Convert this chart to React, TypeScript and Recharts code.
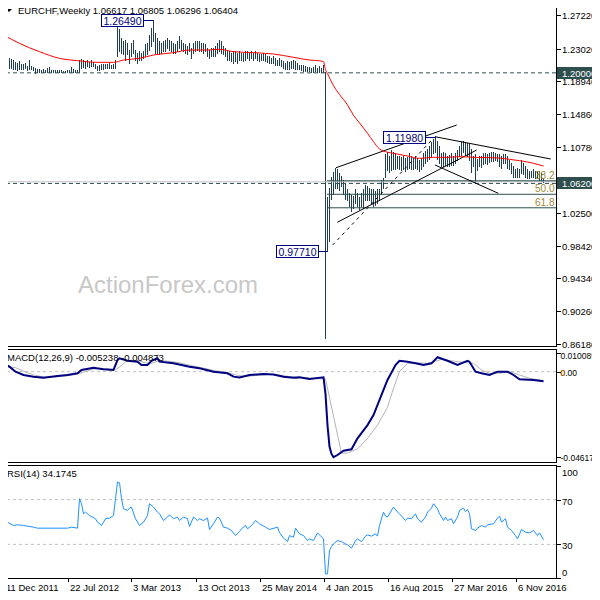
import React from 'react';
import { ComposedChart, Bar, Line, XAxis, YAxis, ReferenceLine, ReferenceDot } from 'recharts';

// weekly EURCHF bars, index 0 = week of 11 Dec 2011
const highs = [
  1.2410, 1.2260, 1.2235, 1.2180, 1.2170, 1.2150, 1.2130, 1.2120, 1.2140, 1.2110,
  1.2100, 1.2120, 1.2080, 1.2160, 1.2080, 1.2070, 1.2060, 1.2045, 1.2040, 1.2035,
  1.2040, 1.2030, 1.2060, 1.2070, 1.2035, 1.2030, 1.2025, 1.2030, 1.2025, 1.2025,
  1.2022, 1.2020, 1.2025, 1.2030, 1.2070, 1.2040, 1.2035, 1.2030, 1.2160, 1.2170,
  1.2150, 1.2140, 1.2150, 1.2130, 1.2150, 1.2130, 1.2110, 1.2080, 1.2090, 1.2100,
  1.2100, 1.2110, 1.2110, 1.2120, 1.2090, 1.2110, 1.2150, 1.2597, 1.2535, 1.2431,
  1.2389, 1.2410, 1.2368, 1.2285, 1.2368, 1.2410, 1.2285, 1.2244, 1.2264, 1.2244,
  1.2264, 1.2348, 1.2368, 1.2472, 1.2556, 1.2649, 1.2493, 1.2431, 1.2389, 1.2368,
  1.2389, 1.2410, 1.2431, 1.2410, 1.2389, 1.2368, 1.2348, 1.2389, 1.2452, 1.2410,
  1.2368, 1.2348, 1.2327, 1.2368, 1.2306, 1.2368, 1.2389, 1.2389, 1.2389, 1.2368,
  1.2368, 1.2348, 1.2306, 1.2285, 1.2306, 1.2306, 1.2327, 1.2368, 1.2410, 1.2389,
  1.2327, 1.2306, 1.2285, 1.2264, 1.2244, 1.2264, 1.2264, 1.2244, 1.2264, 1.2244,
  1.2244, 1.2264, 1.2264, 1.2244, 1.2264, 1.2244, 1.2264, 1.2244, 1.2223, 1.2223,
  1.2244, 1.2223, 1.2202, 1.2202, 1.2181, 1.2202, 1.2181, 1.2160, 1.2181, 1.2160,
  1.2140, 1.2119, 1.2140, 1.2127, 1.2140, 1.2160, 1.2140, 1.2119, 1.2098, 1.2098,
  1.2086, 1.2077, 1.2069, 1.2069, 1.2056, 1.2069, 1.2098, 1.2056, 1.2077, 1.2056,
  1.2098, 1.2010, 1.0450, 1.0560, 1.0700, 1.0760, 1.0812, 1.0790, 1.0750, 1.0710,
  1.0660, 1.0620, 1.0540, 1.0500, 1.0470, 1.0455, 1.0540, 1.0500, 1.0450, 1.0500,
  1.0540, 1.0590, 1.0580, 1.0560, 1.0550, 1.0540, 1.0520, 1.0540, 1.0540, 1.0660,
  1.0680, 1.0975, 1.1000, 1.0950, 1.1030, 1.1000, 1.0990, 1.0960, 1.0950, 1.0940,
  1.0950, 1.0930, 1.0940, 1.0990, 1.0950, 1.0930, 1.0950, 1.0930, 1.0910, 1.0930,
  1.0990, 1.1020, 1.1040, 1.1080, 1.1130, 1.1170, 1.1198, 1.1140, 1.1080, 1.0990,
  1.1010, 1.0990, 1.0950, 1.0970, 1.0990, 1.0960, 1.0990, 1.1030, 1.1080, 1.1140,
  1.1140, 1.1130, 1.1120, 1.1100, 1.1040, 1.0960, 1.0985, 1.0920, 1.0950, 1.0960,
  1.0990, 1.0990, 1.0975, 1.0990, 1.1000, 1.1000, 1.0990, 1.0980, 1.0975, 1.0950,
  1.0975, 1.0975, 1.0950, 1.0910, 1.0870, 1.0830, 1.0790, 1.0810, 1.0790, 1.0910,
  1.0870, 1.0830, 1.0790, 1.0770, 1.0770, 1.0790, 1.0770, 1.0770, 1.0767, 1.0746, 1.06805,
];

const lows = [
  1.2200, 1.2140, 1.2098, 1.2060, 1.2050, 1.2040, 1.2040, 1.2030, 1.2040, 1.2040,
  1.2040, 1.2050, 1.2030, 1.2040, 1.2040, 1.2030, 1.1995, 1.2005, 1.2005, 1.2008,
  1.2008, 1.2005, 1.2005, 1.2008, 1.2005, 1.2005, 1.2006, 1.2006, 1.2005, 1.2006,
  1.2006, 1.2006, 1.2006, 1.2006, 1.2006, 1.2008, 1.2008, 1.2008, 1.2010, 1.2060,
  1.2070, 1.2060, 1.2080, 1.2070, 1.2080, 1.2080, 1.2060, 1.2030, 1.2030, 1.2040,
  1.2040, 1.2050, 1.2060, 1.2060, 1.2060, 1.2060, 1.2060, 1.2202, 1.2264, 1.2244,
  1.2223, 1.2160, 1.2223, 1.2119, 1.2202, 1.2244, 1.2160, 1.2119, 1.2160, 1.2160,
  1.2181, 1.2202, 1.2223, 1.2285, 1.2327, 1.2389, 1.2244, 1.2244, 1.2223, 1.2244,
  1.2264, 1.2264, 1.2306, 1.2285, 1.2264, 1.2244, 1.2244, 1.2264, 1.2306, 1.2285,
  1.2264, 1.2244, 1.2223, 1.2264, 1.2181, 1.2244, 1.2264, 1.2285, 1.2264, 1.2264,
  1.2244, 1.2264, 1.2202, 1.2181, 1.2202, 1.2202, 1.2202, 1.2244, 1.2264, 1.2244,
  1.2223, 1.2202, 1.2160, 1.2160, 1.2140, 1.2119, 1.2140, 1.2119, 1.2160, 1.2160,
  1.2140, 1.2160, 1.2181, 1.2160, 1.2181, 1.2160, 1.2181, 1.2160, 1.2140, 1.2160,
  1.2160, 1.2140, 1.2127, 1.2119, 1.2119, 1.2119, 1.2098, 1.2098, 1.2098, 1.2077,
  1.2056, 1.2036, 1.2044, 1.2044, 1.2056, 1.2056, 1.2044, 1.2036, 1.2036, 1.2027,
  1.2019, 1.2019, 1.2011, 1.2011, 1.2003, 1.2003, 1.2011, 1.2003, 1.2003, 1.2003,
  1.2003, 0.8690, 0.9771, 0.9900, 1.0420, 1.0480, 1.0560, 1.0560, 1.0530, 1.0580,
  1.0480, 1.0420, 1.0410, 1.0330, 1.0265, 1.0310, 1.0370, 1.0330, 1.0290, 1.0330,
  1.0310, 1.0410, 1.0410, 1.0410, 1.0370, 1.0330, 1.0350, 1.0370, 1.0410, 1.0480,
  1.0560, 1.0700, 1.0780, 1.0760, 1.0780, 1.0800, 1.0800, 1.0810, 1.0790, 1.0780,
  1.0800, 1.0770, 1.0790, 1.0810, 1.0800, 1.0790, 1.0810, 1.0790, 1.0770, 1.0790,
  1.0830, 1.0870, 1.0890, 1.0920, 1.0950, 1.0990, 1.1000, 1.0920, 1.0870, 1.0830,
  1.0830, 1.0850, 1.0830, 1.0830, 1.0850, 1.0850, 1.0870, 1.0910, 1.0950, 1.0970,
  1.1000, 1.0970, 1.0950, 1.0910, 1.0760, 1.0830, 1.0625, 1.0780, 1.0830, 1.0820,
  1.0860, 1.0870, 1.0860, 1.0880, 1.0890, 1.0890, 1.0900, 1.0890, 1.0830, 1.0810,
  1.0870, 1.0870, 1.0810, 1.0790, 1.0750, 1.0700, 1.0690, 1.0700, 1.0690, 1.0750,
  1.0730, 1.0700, 1.0680, 1.0680, 1.0690, 1.0690, 1.0680, 1.0680, 1.0660, 1.0640, 1.06296,
];

// red moving average, [bar index, value]
const maLine: [number, number][] = [
  [0, 1.2472], [8, 1.2368], [18, 1.2264], [28, 1.2181], [37, 1.2152], [47, 1.2131], [55, 1.2131],
  [60, 1.2160], [68, 1.2181], [75, 1.2223], [85, 1.2252], [93, 1.2285], [102, 1.2285], [108, 1.2294],
  [115, 1.2264], [125, 1.2252], [135, 1.2235], [145, 1.2194], [153, 1.2160], [158, 1.2150],
  [160, 1.2140], [161, 1.2040], [162, 1.1990], [165, 1.1840], [168, 1.1730], [172, 1.1600],
  [175, 1.1470], [178, 1.1375], [182, 1.1245], [185, 1.1141], [188, 1.1050], [192, 1.1010],
  [195, 1.0996], [202, 1.0962], [208, 1.0933], [215, 1.0946], [222, 1.0946], [228, 1.0954],
  [235, 1.0946], [242, 1.0942], [248, 1.0937], [253, 1.0921], [258, 1.0904], [265, 1.0871], [270, 1.0837],
];

const macdMain: [number, number][] = [
  [0, 0.0045], [3, 0.0027], [6, 0.0000], [10, -0.0018], [15, -0.0027], [20, -0.0033], [27, -0.0024],
  [32, -0.0018], [37, -0.0009], [39, 0.0009], [45, 0.0021], [50, 0.0013], [55, 0.0009], [57, 0.0063],
  [58, 0.0072], [62, 0.0059], [67, 0.0054], [69, 0.0036], [72, 0.0036], [74, 0.0059], [77, 0.0072],
  [78, 0.0054], [85, 0.0045], [93, 0.0027], [98, 0.0018], [105, 0.0000], [112, -0.0009], [115, -0.0027],
  [118, -0.0031], [123, -0.0018], [130, -0.0013], [135, -0.0015], [140, -0.0027], [145, -0.0033],
  [148, -0.0031], [153, -0.0040], [160, -0.0031], [161, -0.0120], [162, -0.0290], [163, -0.0405],
  [164, -0.0445], [165, -0.0463], [167, -0.0451], [170, -0.0428], [174, -0.0420], [177, -0.0361],
  [182, -0.0289], [185, -0.0235], [189, -0.0126], [192, -0.0045], [196, 0.0036], [198, 0.0059],
  [202, 0.0054], [206, 0.0045], [210, 0.0036], [214, 0.0045], [217, 0.0078], [222, 0.0059],
  [227, 0.0036], [232, 0.0059], [233, 0.0054], [236, 0.0000], [239, -0.0009], [243, -0.0018],
  [247, 0.0000], [252, 0.0000], [255, -0.0018], [258, -0.0041], [265, -0.0045], [270, -0.005238],
];

const macdSignal: [number, number][] = [
  [0, 0.0005], [3, 0.0025], [6, 0.0022], [10, 0.0002], [15, -0.0018], [20, -0.0029], [27, -0.0028],
  [32, -0.0022], [37, -0.0013], [40, -0.0002], [45, 0.0014], [50, 0.0017], [56, 0.0011], [58, 0.0025],
  [61, 0.0052], [64, 0.0062], [68, 0.0057], [71, 0.0047], [74, 0.0045], [78, 0.0060], [82, 0.0057],
  [88, 0.0048], [95, 0.0030], [100, 0.0019], [106, 0.0005], [112, -0.0006], [117, -0.0020],
  [121, -0.0026], [126, -0.0021], [132, -0.0015], [137, -0.0017], [142, -0.0025], [147, -0.0031],
  [152, -0.0034], [157, -0.0038], [161, -0.0040], [169, -0.0442], [172, -0.0440], [177, -0.0418],
  [182, -0.0361], [187, -0.0289], [192, -0.0192], [195, -0.0090], [198, 0.0000], [202, 0.0045],
  [207, 0.0048], [212, 0.0045], [219, 0.0066], [225, 0.0057], [230, 0.0050], [235, 0.0045],
  [239, 0.0009], [243, -0.0009], [248, -0.0009], [253, 0.0000], [258, -0.0018], [263, -0.0036], [270, -0.004873],
];

const rsiLine: [number, number][] = [
  [0, 51.3], [2, 49.8], [5, 46.9], [7, 47.5], [10, 46.9], [12, 46.3], [15, 45.4], [17, 44.5], [32, 44.5],
  [34, 45.4], [37, 44.5], [38, 70.8], [39, 66.3], [40, 57.3], [41, 58.8], [43, 55.8], [46, 52.9],
  [47, 49.8], [49, 46.9], [51, 52.9], [53, 53.5], [55, 55.8], [56, 70.8], [57, 85.7], [58, 85.1],
  [59, 70.8], [60, 61.8], [62, 60.3], [63, 62.4], [64, 63.3], [66, 52.9], [68, 46.9], [70, 49.8],
  [72, 55.8], [73, 66.3], [75, 63.3], [77, 58.8], [78, 57.3], [80, 51.3], [82, 54.4], [83, 56.5],
  [85, 52.9], [87, 54.4], [88, 51.3], [90, 54.4], [92, 52.9], [93, 46.0], [95, 54.4], [97, 51.3],
  [98, 52.9], [100, 51.3], [102, 53.5], [103, 43.3], [105, 48.4], [107, 54.4], [108, 53.5], [110, 45.4],
  [112, 44.5], [114, 42.4], [116, 37.9], [118, 41.5], [119, 43.9], [121, 46.9], [122, 43.9], [124, 46.9],
  [126, 51.3], [128, 48.4], [131, 45.4], [133, 43.3], [137, 45.4], [138, 40.6], [140, 35.6], [142, 32.5],
  [143, 37.9], [145, 36.4], [146, 44.5], [148, 39.4], [150, 37.9], [152, 33.4], [153, 34.9], [155, 33.4],
  [157, 40.3], [158, 38.5], [160, 34.9], [161, 3.6], [162, 3.6], [163, 24.5], [164, 28.0], [165, 30.5],
  [167, 33.4], [169, 32.5], [171, 30.5], [172, 29.6], [174, 26.6], [176, 33.4], [177, 34.9], [179, 32.5],
  [181, 37.4], [182, 38.5], [184, 37.4], [186, 39.4], [187, 37.4], [188, 46.9], [190, 58.8], [191, 55.3],
  [192, 54.4], [195, 63.3], [197, 58.8], [198, 57.3], [201, 51.3], [202, 53.5], [204, 52.9], [206, 57.3],
  [207, 52.9], [209, 49.9], [211, 54.4], [212, 58.8], [214, 62.4], [215, 66.3], [217, 61.8], [218, 57.3],
  [220, 51.3], [221, 54.4], [222, 51.3], [224, 52.9], [225, 48.4], [227, 54.4], [228, 60.3], [230, 62.4],
  [231, 59.4], [232, 61.2], [233, 57.3], [234, 43.9], [236, 42.4], [237, 44.5], [239, 46.9], [241, 45.4],
  [242, 47.5], [245, 48.4], [247, 53.5], [248, 55.3], [249, 49.9], [251, 52.9], [252, 45.4], [254, 42.4],
  [256, 37.9], [257, 34.9], [259, 43.3], [261, 40.9], [263, 40.3], [265, 42.4], [267, 37.9], [268, 40.3],
  [270, 34.17],
];

const priceTicks = [1.2722, 1.2302, 1.1894, 1.1486, 1.1078, 1.025, 0.9842, 0.9434, 0.9026, 0.8618, 1.2, 1.062];
const boxedPrices = [1.2, 1.062];
const macdTicks = [0.010089, 0, -0.046173];
const macdTickLabels = ['0.010089', '0.00', '-0.046173'];
const rsiTicks = [100, 70, 30, 0];
const dateTicks = [0, 32, 64, 96, 128, 160, 192, 224, 256];
const dateLabels = ['11 Dec 2011', '22 Jul 2012', '3 Mar 2013', '13 Oct 2013', '25 May 2014', '4 Jan 2015', '16 Aug 2015', '27 Mar 2016', '6 Nov 2016'];

const fibLevels = [1.0653, 1.04845, 1.0316];
const fibNames = ['38.2', '50.0', '61.8'];

const FONT = '"Liberation Sans", Arial, sans-serif';
const FS = 9.5;
const BAR = '#1f3f50';
const NAVY = '#000080';
const X_DOMAIN: [number, number] = [-0.75, 276.25];

const bars = highs.map((h, i) => ({ i, range: [lows[i], h] }));
const pts = (a: [number, number][]) => a.map(([i, v]) => ({ i, v }));

// crisp 1px high-low stick, centred on the slot Recharts gives
const Stick = (p: any) => {
  const cx = Math.floor(p.x + p.width / 2);
  const top = Math.floor(p.y);
  const bottom = Math.ceil(p.y + p.height);
  return <rect x={cx} y={top} width={1} height={Math.max(1, bottom - top)} fill={BAR} />;
};

const AxisTick = ({ x, y, label, boxed, dy = 0, dx = 0, fs = FS, accent }: any) => {
  const ly = Math.round(y) + 0.5;
  return (
    <g>
      <line x1={x - 5} x2={x - 1} y1={ly} y2={ly} stroke="#000" />
      {boxed && <rect x={x - 5} y={ly - 6.5} width={44} height={12} fill="#2f4f4f" />}
      <text x={x + dx} y={ly + 3 + dy} fontSize={fs} fontFamily={FONT} fill={boxed ? '#fff' : '#000'}>{label}</text>
      {accent && <text x={x + dx} y={ly + 3 + dy} fontSize={fs} fontFamily={FONT} fill="#d07000">0</text>}
    </g>
  );
};

const PriceBox = ({ cx, cy, text, gap, dy = 0 }: any) => {
  const y = Math.round(cy + dy) + 0.5;
  const right = Math.round(cx - gap) + 0.5;
  return (
    <g>
      <line x1={right} x2={cx} y1={y} y2={y} stroke={NAVY} />
      <rect x={right - 42} y={y - 6} width={42} height={12} fill="#fff" stroke={NAVY} />
      <text x={right - 21} y={y + 4} textAnchor="middle" fontSize={10.5} fontFamily={FONT} fill={NAVY}>{text}</text>
    </g>
  );
};

const FibText = ({ cx, cy, text }: any) => (
  <text x={cx} y={cy - 2} textAnchor="end" fontSize={10} fontFamily={FONT} fill="#a08838">{text}</text>
);

export default function App() {
  return (
    <div style={{ position: 'relative', width: 600, height: 600, margin: -8, background: '#fff', overflow: 'hidden' }}>
      <svg width={600} height={600} style={{ position: 'absolute', left: 0, top: 0 }}>
        <text x={78} y={293} fontSize={24} fontFamily={FONT} fill="#c8c8c8">ActionForex.com</text>
      </svg>

      <div style={{ position: 'absolute', left: 0, top: 0 }}>
        <ComposedChart width={600} height={350} data={bars} margin={{ top: 3, right: 0, bottom: 4, left: 2 }}>
          <XAxis type="number" dataKey="i" domain={X_DOMAIN} allowDataOverflow hide />
          <YAxis
            orientation="right" type="number" domain={[0.85911, 1.28718]} allowDataOverflow width={44}
            ticks={priceTicks} interval={0} axisLine={false} tickLine={false} tickSize={4} tickMargin={2}
            tick={(p: any) => <AxisTick x={p.x} y={p.y} label={p.payload.value.toFixed(5)} boxed={boxedPrices.includes(p.payload.value)} />}
          />
          <ReferenceLine y={1.2} stroke="#2f4f4f" strokeDasharray="4 3" />
          <ReferenceLine y={1.06404} stroke="#c0c0c0" />
          <ReferenceLine y={1.062} stroke="#2f4f4f" strokeDasharray="4 3" />
          {fibLevels.map((lv) => (
            <ReferenceLine key={lv} segment={[{ x: 161.75, y: lv }, { x: 276.25, y: lv }]} stroke="#2f4f4f" ifOverflow="visible" />
          ))}
          <ReferenceLine segment={[{ x: 166.25, y: 1.0816 }, { x: 226.6, y: 1.1349 }]} stroke="#000" ifOverflow="visible" />
          <ReferenceLine segment={[{ x: 166.9, y: 1.0135 }, { x: 236.6, y: 1.1037 }]} stroke="#000" ifOverflow="visible" />
          <ReferenceLine segment={[{ x: 164.6, y: 0.9852 }, { x: 215.75, y: 1.1203 }]} stroke="#000" strokeDasharray="3 4" ifOverflow="visible" />
          <ReferenceLine segment={[{ x: 215.75, y: 1.1203 }, { x: 273.6, y: 1.0925 }]} stroke="#000" ifOverflow="visible" />
          <ReferenceLine segment={[{ x: 215.75, y: 1.085 }, { x: 247.4, y: 1.0497 }]} stroke="#000" ifOverflow="visible" />
          <Bar dataKey="range" fill={BAR} barSize={1} shape={Stick} isAnimationActive={false} />
          <Line data={pts(maLine)} dataKey="v" type="monotone" stroke="#ff0000" strokeWidth={1} dot={false} activeDot={false} isAnimationActive={false} />
          {fibLevels.map((lv, k) => (
            <ReferenceDot key={'f' + k} x={276} y={lv} ifOverflow="visible" shape={(p: any) => <FibText cx={p.cx - 1} cy={p.cy} text={fibNames[k]} />} />
          ))}
          <ReferenceDot x={75} y={1.2649} ifOverflow="visible" shape={(p: any) => <PriceBox cx={p.cx} cy={p.cy} gap={10.5} dy={-1} text="1.26490" />} />
          <ReferenceDot x={216} y={1.1198} ifOverflow="visible" shape={(p: any) => <PriceBox cx={p.cx} cy={p.cy} gap={10.5} text="1.11980" />} />
          <ReferenceDot x={162} y={0.9771} ifOverflow="visible" shape={(p: any) => <PriceBox cx={p.cx} cy={p.cy} gap={9.5} text="0.97710" />} />
        </ComposedChart>
      </div>

      <div style={{ position: 'absolute', left: 0, top: 347 }}>
        <ComposedChart width={600} height={118} data={pts(macdMain)} margin={{ top: 3, right: 0, bottom: 3, left: 2 }}>
          <XAxis type="number" dataKey="i" domain={X_DOMAIN} allowDataOverflow hide />
          <YAxis
            orientation="right" type="number" domain={[-0.048877, 0.011712]} allowDataOverflow width={44}
            ticks={macdTicks} interval={0} axisLine={false} tickLine={false} tickSize={4} tickMargin={2}
            tick={(p: any) => {
              const k = macdTicks.indexOf(p.payload.value);
              return <AxisTick x={p.x} y={p.y} label={macdTickLabels[k]} fs={8.5} dx={-1.5} dy={k === 0 ? 2 : 0} accent={k === 1} />;
            }}
          />
          <ReferenceLine y={0} stroke="#c0c0c0" strokeDasharray="3 3" />
          <Line data={pts(macdSignal)} dataKey="v" type="linear" stroke="#b4b4b4" strokeWidth={1} dot={false} activeDot={false} isAnimationActive={false} />
          <Line dataKey="v" type="linear" stroke={NAVY} strokeWidth={2} dot={false} activeDot={false} isAnimationActive={false} />
        </ComposedChart>
      </div>

      <div style={{ position: 'absolute', left: 0, top: 463 }}>
        <ComposedChart width={600} height={137} data={pts(rsiLine)} margin={{ top: 3, right: 0, bottom: 2, left: 2 }}>
          <XAxis
            type="number" dataKey="i" domain={X_DOMAIN} allowDataOverflow height={20}
            ticks={dateTicks} interval={0} axisLine={false} tickLine={false} tickSize={0} tickMargin={0}
            tick={(p: any) => {
              const k = dateTicks.indexOf(p.payload.value);
              const tx = Math.round(p.x) + 0.5;
              return (
                <g>
                  <line x1={tx} x2={tx} y1={p.y} y2={p.y + 4} stroke="#000" />
                  <text x={tx + 1.5} y={p.y + 13} textAnchor="start" fontSize={FS} fontFamily={FONT} fill="#000">{dateLabels[k]}</text>
                </g>
              );
            }}
          />
          <YAxis
            orientation="right" type="number" domain={[0, 100]} allowDataOverflow width={44}
            ticks={rsiTicks} interval={0} axisLine={false} tickLine={false} tickSize={4} tickMargin={2}
            tick={(p: any) => {
              const v = p.payload.value;
              return <AxisTick x={p.x} y={p.y} label={String(v)} dy={v === 100 ? 6 : v === 0 ? -6 : 1} />;
            }}
          />
          <ReferenceLine y={70} stroke="#c0c0c0" strokeDasharray="3 3" />
          <ReferenceLine y={30} stroke="#c0c0c0" strokeDasharray="3 3" />
          <Line dataKey="v" type="linear" stroke="#1e90ff" strokeWidth={1} dot={false} activeDot={false} isAnimationActive={false} />
        </ComposedChart>
      </div>

      <svg width={600} height={600} style={{ position: 'absolute', left: 0, top: 0, pointerEvents: 'none' }}>
        <g fill="none" stroke="#000" strokeWidth={1}>
          <rect x={2.5} y={2.5} width={554} height={344} />
          <rect x={2.5} y={349.5} width={554} height={113} />
          <rect x={2.5} y={465.5} width={554} height={113} />
        </g>
        <polygon points="6,9 12,9 9,12" fill="#000" />
        <text x={18} y={14} fontSize={FS} fontFamily={FONT} fill="#000">EURCHF,Weekly  1.06617 1.06805 1.06296 1.06404</text>
        <text x={7} y={361} fontSize={FS} fontFamily={FONT} fill="#000">MACD(12,26,9) -0.005238 -0.004873</text>
        <text x={7} y={477} fontSize={FS} fontFamily={FONT} fill="#000">RSI(14) 34.1745</text>
      </svg>
    </div>
  );
}
